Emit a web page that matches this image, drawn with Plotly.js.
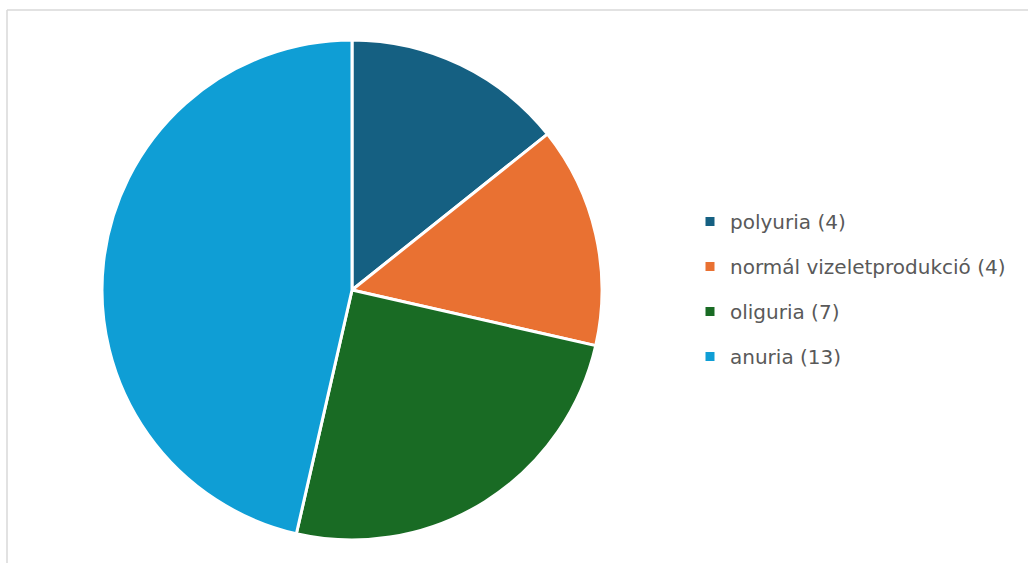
<!DOCTYPE html>
<html>
<head>
<meta charset="utf-8">
<script src="https://cdn.plot.ly/plotly-3.0.1.min.js"></script>
<style>html,body{margin:0;padding:0;background:#fff;}#chart{width:1028px;height:563px;}</style>
</head>
<body>
<div id="chart"></div>
<script>
const categories = ["polyuria", "normál vizeletprodukció", "oliguria", "anuria"];
const values = [4, 4, 7, 13];
const colors = ["#156082", "#E97132", "#196B24", "#0F9ED5"];
const legendLabels = categories.map((c, i) => c + " (" + values[i] + ")");

const W = 1028, H = 563;
const cx = 352, cy = 290, r = 250;

const traces = [{
  type: "pie",
  labels: categories,
  values: values,
  sort: false,
  direction: "clockwise",
  rotation: 0,
  marker: {colors: colors, line: {color: "#ffffff", width: 3}},
  textinfo: "none",
  hoverinfo: "label+value+percent",
  showlegend: false,
  domain: {x: [(cx - r) / W, (cx + r) / W], y: [1 - (cy + r) / H, 1 - (cy - r) / H]}
}];

categories.forEach((c, i) => {
  traces.push({
    type: "scatter",
    mode: "markers",
    x: [null], y: [null],
    name: legendLabels[i],
    legendgroup: "g" + i,
    marker: {symbol: "square", size: 9, color: colors[i]},
    showlegend: true,
    hoverinfo: "skip"
  });
});

const layout = {
  width: W, height: H,
  margin: {l: 0, r: 0, t: 0, b: 0},
  paper_bgcolor: "#ffffff",
  plot_bgcolor: "#ffffff",
  xaxis: {visible: false, fixedrange: true},
  yaxis: {visible: false, fixedrange: true},
  showlegend: true,
  legend: {
    x: (730 - 40) / W, xanchor: "left",
    y: 1 - 289 / H, yanchor: "middle",
    traceorder: "grouped",
    tracegroupgap: 16,
    font: {family: "'DejaVu Sans', sans-serif", size: 20, color: "#595959"},
    bgcolor: "rgba(0,0,0,0)",
    itemclick: false, itemdoubleclick: false
  },
  shapes: [
    {type: "line", xref: "paper", yref: "paper", x0: 7 / W, x1: 1, y0: 1 - 10 / H, y1: 1 - 10 / H, line: {color: "#d9d9d9", width: 1.5}},
    {type: "line", xref: "paper", yref: "paper", x0: 7 / W, x1: 7 / W, y0: 1 - 10 / H, y1: 0, line: {color: "#d9d9d9", width: 1.5}}
  ]
};

Plotly.newPlot("chart", traces, layout, {displayModeBar: false, staticPlot: true});
</script>
</body>
</html>
